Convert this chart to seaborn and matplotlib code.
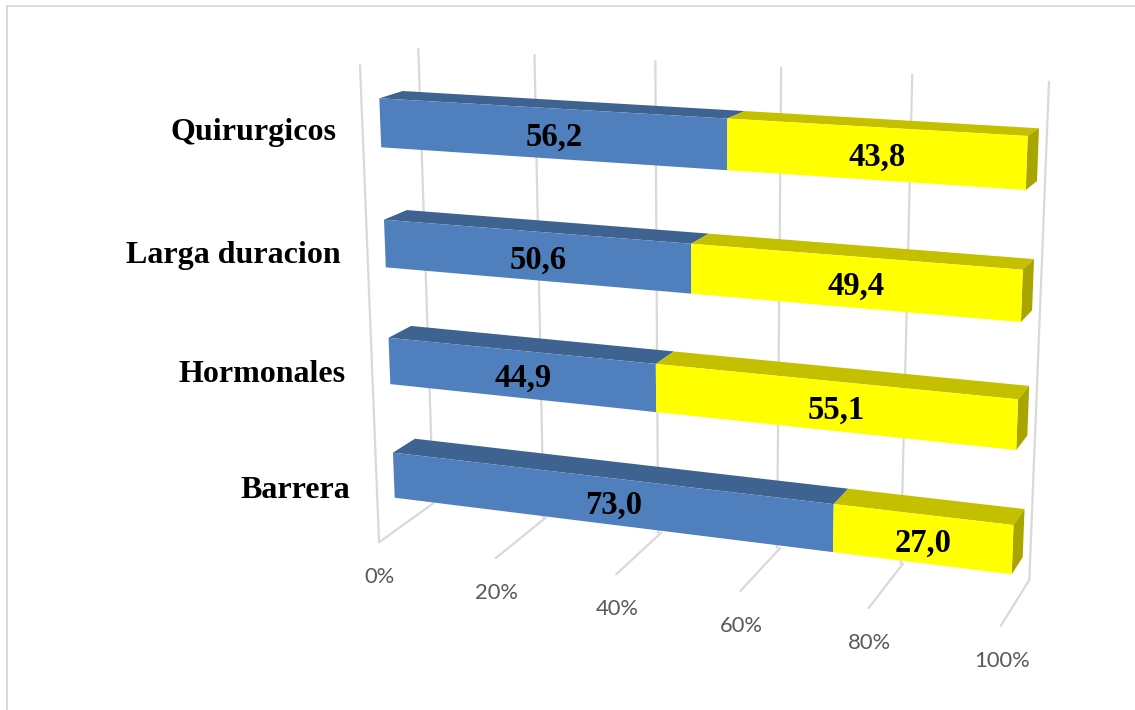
import numpy as np
import pandas as pd
import matplotlib
matplotlib.use('Agg')
import matplotlib.pyplot as plt
import seaborn as sns
from matplotlib.lines import Line2D
from matplotlib.patches import Polygon
from matplotlib.transforms import Affine2D, IdentityTransform, Transform

# Values
categories = ['Quirurgicos', 'Larga duracion', 'Hormonales', 'Barrera']
blue_values = [56.2, 50.6, 44.9, 73.0]
yellow_values = [43.8, 49.4, 55.1, 27.0]
blue_labels = ['56,2', '50,6', '44,9', '73,0']
yellow_labels = ['43,8', '49,4', '55,1', '27,0']
tick_values = [0, 20, 40, 60, 80, 100]
tick_labels = ['0%', '20%', '40%', '60%', '80%', '100%']

W, H = 1135, 710
BAR_WIDTH = 0.4
Y_TOP, Y_BOTTOM = -BAR_WIDTH / 2, 3 + BAR_WIDTH / 2

BLUE, BLUE_TOP = '#4f80bd', '#3e6391'
YELLOW, YELLOW_TOP, YELLOW_SIDE = '#ffff00', '#c4c000', '#a9a500'
GRID = '#d9d9d9'


# Maps chart coordinates onto a perspective plane of the picture
class Plane(Transform):
    input_dims = 2
    output_dims = 2
    is_separable = False
    has_inverse = False

    def __init__(self, src, dst):
        super().__init__()
        a = []
        b = []
        for (u, v), (x, y) in zip(src, dst):
            a.append([u, v, 1, 0, 0, 0, -u * x, -v * x])
            a.append([0, 0, 0, u, v, 1, -u * y, -v * y])
            b += [x, y]
        self.m = np.append(np.linalg.solve(np.array(a, float), np.array(b, float)), 1).reshape(3, 3)

    def transform_non_affine(self, values):
        values = np.asarray(values, float)
        p = np.c_[values, np.ones(len(values))] @ self.m.T
        return p[:, :2] / p[:, 2:]


pixels = Affine2D().scale(1, -1).translate(0, H)


def plane(src, dst):
    return Plane(src, dst) + pixels


# Calibration of the 3D box, corners in picture pixels
bar_corners = [(0, Y_TOP), (100, Y_TOP), (0, Y_BOTTOM), (100, Y_BOTTOM)]
front = plane(bar_corners, [(379.3, 98.3), (1027.7, 136), (394.7, 497.7), (1011.7, 574.3)])
back = plane(bar_corners, [(402.7, 91), (1039, 128.3), (416.5, 483), (1022.7, 557.3)])
box_corners = [(0, 0), (100, 0), (0, 1), (100, 1)]
wall = plane(box_corners, [(433.3, 503.3), (1029.3, 580), (418.3, 49), (1049, 81.7)])
floor = plane(box_corners, [(433.3, 503.3), (1029.3, 580), (379, 542.3), (1000.7, 626)])

sns.set_theme(style='white')
plt.rcParams['font.family'] = ['Liberation Serif', 'DejaVu Sans']

df = pd.DataFrame({'metodo': categories, 'azul': blue_values, 'amarillo': yellow_values})

fig = plt.figure(figsize=(W / 100, H / 100), dpi=100, facecolor='white')
ax = fig.add_axes([0, 0, 1, 1])

# Stacked bars, bent into the front plane afterwards
sns.barplot(data=df, x='azul', y='metodo', color=BLUE, saturation=1, width=BAR_WIDTH, ax=ax)
sns.barplot(data=df, x='amarillo', y='metodo', left=blue_values, color=YELLOW, saturation=1,
            width=BAR_WIDTH, ax=ax)
ax.axis('off')
bars = list(ax.patches)

# Walls and floor
for v in tick_values:
    ax.plot([v, v], [0, 1], color=GRID, lw=1.6, transform=wall, clip_on=False, zorder=1)
    ax.plot([v, v], [0, 1], color=GRID, lw=1.6, transform=floor, clip_on=False, zorder=1)
ax.plot([360, 379], [65, 542.3], color=GRID, lw=1.6, transform=pixels, clip_on=False, zorder=1)

for v, label in zip(tick_values, tick_labels):
    x, y = floor.transform([(v, 1)])[0]
    ax.text(x + 1, H - y + 35, label, transform=pixels, ha='center', va='center', fontsize=15.8,
            color='#595959', family=['Lato', 'DejaVu Sans'])

# Faces of each bar, tops first, then the end cap, then the front
n = len(categories)
for i, bar in enumerate(bars):
    x0, y0 = bar.get_x(), bar.get_y()
    x1, y1 = x0 + bar.get_width(), y0 + bar.get_height()
    is_blue = i < n
    top = np.r_[front.transform([(x0, y0), (x1, y0)]), back.transform([(x1, y0), (x0, y0)])]
    ax.add_patch(Polygon(top, closed=True, fc=BLUE_TOP if is_blue else YELLOW_TOP, ec='none',
                         transform=IdentityTransform(), clip_on=False, zorder=2))
    if not is_blue:
        side = np.r_[front.transform([(x1, y0), (x1, y1)]), back.transform([(x1, y1), (x1, y0)])]
        ax.add_patch(Polygon(side, closed=True, fc=YELLOW_SIDE, ec='none',
                             transform=IdentityTransform(), clip_on=False, zorder=2))
    bar.set_transform(front)
    bar.set_clip_on(False)
    bar.set_linewidth(0)
    bar.set_zorder(3)

# Value labels in the middle of each front face
all_labels = blue_labels + yellow_labels
for bar, label in zip(bars, all_labels):
    x0, y0 = bar.get_x(), bar.get_y()
    x1, y1 = x0 + bar.get_width(), y0 + bar.get_height()
    cx, cy = front.transform([(x0, y0), (x1, y0), (x1, y1), (x0, y1)]).mean(axis=0)
    ax.text(cx, H - cy + 4, label, transform=pixels, ha='center', va='center', fontsize=23.5,
            fontweight='bold', color='black', zorder=5)

# Category labels, right aligned against the bars
for i, name in enumerate(categories):
    lx, ly = front.transform([(0, i)])[0]
    ax.text(lx - 44, H - ly + 10 + i * 1.7, name, transform=pixels, ha='right', va='center', fontsize=23,
            fontweight='bold', color='black', zorder=5)

# Outer chart frame
fig.add_artist(Line2D([7, 7], [0, H - 6], color=GRID, lw=1.5, transform=None, zorder=1))
fig.add_artist(Line2D([7, W], [H - 6, H - 6], color=GRID, lw=1.2, transform=None, zorder=1))

fig.savefig('out.png', dpi=100)
